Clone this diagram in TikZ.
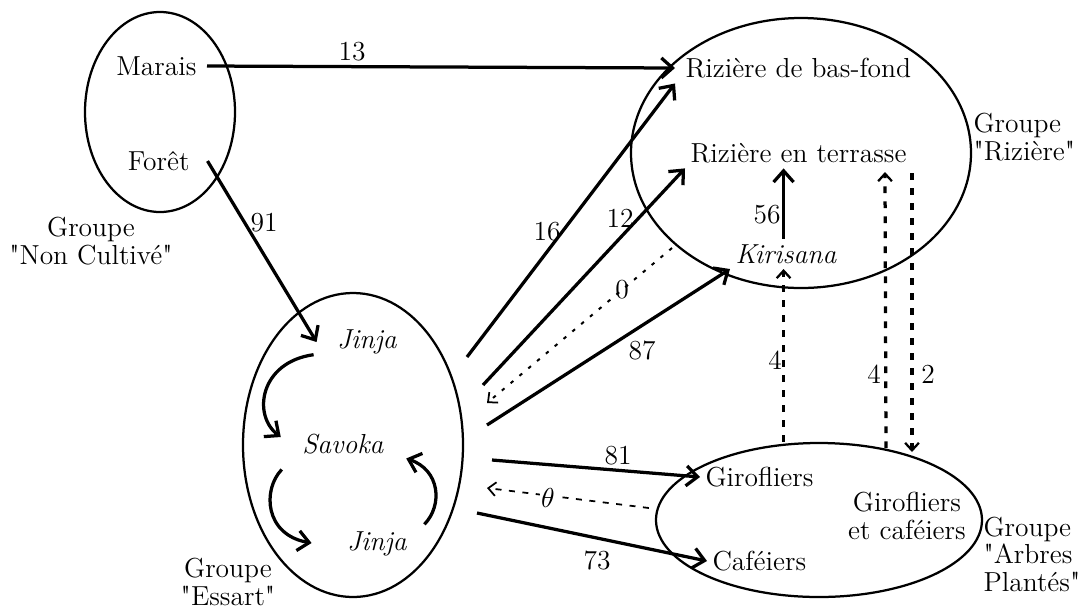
\documentclass[tikz,border=0pt]{standalone}
\usepackage{tikz}
\usetikzlibrary{arrows.meta,shapes.geometric}
\font\dqfont="[lmroman10-regular]" at 11pt
\newcommand{\dq}{{\dqfont\char"22}}

\begin{document}
\begin{tikzpicture}[x=0.4pt, y=-0.4pt,
  grp/.style={ellipse, draw, line width=0.9pt, inner sep=0pt},
  txt/.style={inner sep=2pt, font=\fontsize{11}{11}\selectfont},
  lbl/.style={inner sep=1pt, font=\fontsize{11}{11}\selectfont},
  arw/.style={line width=1.3pt, -{Straight Barb[length=4.5pt,width=8pt]}},
  weak/.style={line width=1.3pt, dash pattern=on 2.7pt off 3.3pt,
               -{Straight Barb[length=3pt,width=5.5pt,line width=0.9pt]}},
  faint/.style={line width=0.8pt, dash pattern=on 1.4pt off 3.2pt,
               -{Straight Barb[length=3pt,width=5.5pt,line width=0.7pt]}}]
  \useasboundingbox (0,0) rectangle (1088,615);

  % groupes
  \node[grp, minimum width=60pt, minimum height=80pt] (noncult) at (160,112) {};
  \node[grp, minimum width=88pt, minimum height=121.6pt] (essart) at (353,445) {};
  \node[grp, minimum width=136pt, minimum height=108pt] (riziere) at (801,153) {};
  \node[grp, minimum width=130.4pt, minimum height=61.6pt] (arbres) at (819,520) {};

  % occupations du sol
  \node[txt, anchor=east] (marais) at (202,66) {Marais};
  \node[txt, anchor=east] (foret) at (195,161) {Forêt};
  \node[txt, anchor=west] (basfond) at (680,68) {Rizière de bas-fond};
  \node[txt, anchor=west] (terrasse) at (685,153) {Rizière en terrasse};
  \node[txt, anchor=west] (kirisana) at (730,254) {\textit{Kirisana}};
  \node[txt] (jinjaA) at (367,342) {\textit{Jinja}};
  \node[txt] (savoka) at (343,444) {\textit{Savoka}};
  \node[txt] (jinjaB) at (377,544) {\textit{Jinja}};
  \node[txt, anchor=west] (girofl) at (700,477) {Girofliers};
  \node[txt, anchor=west] (cafe) at (707,561) {Caféiers};
  \node[txt, align=center] (girocaf) at (907,516) {Girofliers\\et caféiers};

  \node[txt, align=center] (gnoncult) at (91,241) {Groupe\\\dq Non Cultivé\dq};
  \node[txt, align=center] (gessart) at (228,582) {Groupe\\\dq Essart\dq};
  \node[txt, align=left, anchor=west] (griziere) at (968,137) {Groupe\\\dq Rizière\dq};
  \node[txt, align=left, anchor=west] (garbres) at (978,554) {Groupe\\\dq Arbres\\Plantés\dq};

  % extremites libres
  \coordinate (o16) at (467,357);
  \coordinate (o12) at (483,385);
  \coordinate (i0) at (487,403);
  \coordinate (o87) at (487,425);
  \coordinate (o81) at (492,460);
  \coordinate (ith) at (487,488);
  \coordinate (o73) at (477,513);
  \coordinate (s0) at (672,248);
  \coordinate (s4) at (886,448);
  \coordinate (t4) at (885,172);
  \coordinate (s2) at (912,173);
  \coordinate (t2) at (912,452);

  % flux
  \draw[arw] ([xshift=2pt]marais.east) -- ([xshift=-2pt]basfond.west);
  \draw[arw] ([xshift=5pt]foret.east) -- ([xshift=-6pt]jinjaA.west);
  \draw[arw] (o16) -- ([xshift=-2pt]basfond.south west);
  \draw[arw] (o12) -- (terrasse.south west);
  \draw[arw] (o87) -- (kirisana.south west);
  \draw[arw] ([xshift=-1pt]kirisana.north) -- ([xshift=-1pt]kirisana.north |- terrasse.south);
  \draw[arw] (o81) -- (girofl.west);
  \draw[arw] (o73) -- (cafe.west);
  \draw[arw] ([shift={(-18,-5)}]jinjaA.south west) .. controls (260,362) and (252,415) .. ([shift={(-16,-7)}]savoka.west);
  \draw[arw] ([shift={(-15,10)}]savoka.south west) .. controls (262,490) and (265,535) .. ([shift={(-30,-1)}]jinjaB.west);
  \draw[arw] ([shift={(12,-2)}]jinjaB.north east) .. controls (443,505) and (440,470) .. ([shift={(17,-1)}]savoka.south east);
  \draw[faint] (s0) -- (i0);
  \draw[faint, dash pattern=on 2.4pt off 3pt, line width=0.7pt] ([shift={(-6,-12)}]arbres.west) -- (ith);
  \draw[weak] ([xshift=-1pt]kirisana.south |- arbres.north) -- ([xshift=-1pt]kirisana.south);
  \draw[weak] (s4) -- (t4);
  \draw[weak] (s2) -- (t2);

  % effectifs
  \node[lbl] (n13) at (352,52) {13};
  \node[lbl] (n91) at (264,223) {91};
  \node[lbl] (n16) at (547,232) {16};
  \node[lbl] (n12) at (620,218) {12};
  \node[lbl] (n0) at (622,290) {0};
  \node[lbl] (n87) at (642,350) {87};
  \node[lbl] (n56) at (767,215) {56};
  \node[lbl] (n81) at (618,456) {81};
  \node[lbl, fill=white, inner sep=0.5pt] (nth) at (548,498) {$\theta$};
  \node[lbl] (n73) at (597,560) {73};
  \node[lbl] (n4a) at (775,360) {4};
  \node[lbl] (n4b) at (874,374) {4};
  \node[lbl] (n2) at (928,374) {2};
\end{tikzpicture}
\end{document}
